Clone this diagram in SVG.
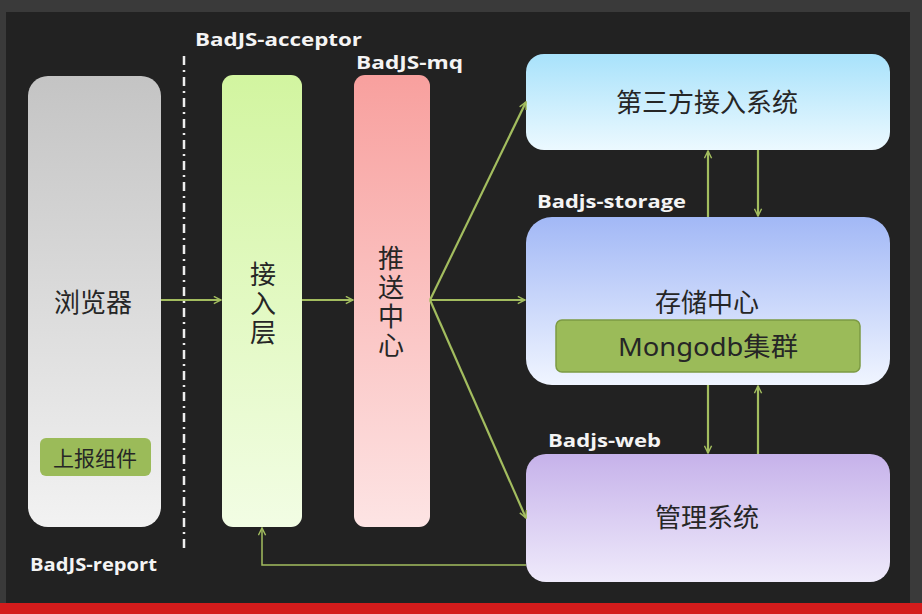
<svg xmlns="http://www.w3.org/2000/svg" width="922" height="614" viewBox="0 0 922 614">
<defs>
<linearGradient id="gGray" x1="0" y1="0" x2="0" y2="1"><stop offset="0" stop-color="#c4c4c4"/><stop offset="1" stop-color="#f2f2f2"/></linearGradient>
<linearGradient id="gGreen" x1="0" y1="0" x2="0" y2="1"><stop offset="0" stop-color="#d2f5a0"/><stop offset="1" stop-color="#f2fde4"/></linearGradient>
<linearGradient id="gPink" x1="0" y1="0" x2="0" y2="1"><stop offset="0" stop-color="#f8a09e"/><stop offset="1" stop-color="#fde4e4"/></linearGradient>
<linearGradient id="gCyan" x1="0" y1="0" x2="0" y2="1"><stop offset="0" stop-color="#a8e2fb"/><stop offset="1" stop-color="#ecf9ff"/></linearGradient>
<linearGradient id="gBlue" x1="0" y1="0" x2="0" y2="1"><stop offset="0" stop-color="#a2b8f6"/><stop offset="1" stop-color="#f0f5ff"/></linearGradient>
<linearGradient id="gPurple" x1="0" y1="0" x2="0" y2="1"><stop offset="0" stop-color="#c6b2ea"/><stop offset="1" stop-color="#efeafb"/></linearGradient>
<marker id="arr" viewBox="0 0 10 10" refX="9" refY="5" markerWidth="9" markerHeight="9" markerUnits="userSpaceOnUse" orient="auto">
<path d="M1,1 L9,5 L1,9" fill="none" stroke="#a3bd5f" stroke-width="1.6"/>
</marker>
</defs>
<style>
.lbl{font-family:"Open Sans","Liberation Sans","Noto Sans CJK SC",sans-serif;font-weight:bold;font-size:18px;fill:#f4f4f4}
.cn{font-family:"Noto Sans CJK SC","Noto Sans",sans-serif;font-size:26px;fill:#262626;text-anchor:middle}
.vt{writing-mode:vertical-rl;letter-spacing:3px}
.con{fill:none;stroke:#a3bd5f;stroke-width:2.2;marker-end:url(#arr)}
.con2{fill:none;stroke:#a3bd5f;stroke-width:1.5}
</style>
<rect x="0" y="0" width="922" height="614" fill="#3a3a3a"/>
<rect x="6" y="12" width="904" height="591" fill="#222222"/>
<rect x="0" y="603" width="922" height="11" fill="#d41c1c"/>

<line x1="184" y1="56" x2="184" y2="552" stroke="#eeeeee" stroke-width="2.5" stroke-dasharray="9,5,2,5"/>

<text class="lbl" x="195" y="46" textLength="167" lengthAdjust="spacingAndGlyphs">BadJS-acceptor</text>
<text class="lbl" x="356" y="69" textLength="107" lengthAdjust="spacingAndGlyphs">BadJS-mq</text>
<text class="lbl" x="537" y="208" textLength="149" lengthAdjust="spacingAndGlyphs">Badjs-storage</text>
<text class="lbl" x="548" y="447" textLength="113" lengthAdjust="spacingAndGlyphs">Badjs-web</text>
<text class="lbl" x="30" y="571" textLength="127" lengthAdjust="spacingAndGlyphs">BadJS-report</text>

<g id="browser">
<rect x="28" y="76" width="133" height="451" rx="20" fill="url(#gGray)"/>
<text class="cn" x="93" y="312">浏览器</text>
</g>
<g id="reporter">
<rect x="40" y="438" width="111" height="38" rx="6" fill="#9bbb59"/>
<text class="cn" x="95" y="466" style="font-size:21px">上报组件</text>
</g>
<g id="acceptor">
<rect x="222" y="75" width="80" height="452" rx="11" fill="url(#gGreen)"/>
<text class="cn vt" x="263" y="305">接入层</text>
</g>
<g id="mq">
<rect x="354" y="75" width="76" height="452" rx="11" fill="url(#gPink)"/>
<text class="cn vt" x="391" y="303">推送中心</text>
</g>
<g id="third">
<rect x="526" y="54" width="364" height="96" rx="18" fill="url(#gCyan)"/>
<text class="cn" x="707" y="112">第三方接入系统</text>
</g>
<g id="storage">
<rect x="526" y="217" width="364" height="168" rx="26" fill="url(#gBlue)"/>
<text class="cn" x="707" y="312">存储中心</text>
</g>
<g id="mongodb">
<rect x="556" y="320" width="304" height="52" rx="6" fill="#9bbb59" stroke="#7c9a43" stroke-width="1.5"/>
<text class="cn" x="708" y="356" textLength="180" lengthAdjust="spacingAndGlyphs" style="font-family:'Noto Sans','Noto Sans CJK SC',sans-serif">Mongodb集群</text>
</g>
<g id="web">
<rect x="526" y="454" width="364" height="128" rx="20" fill="url(#gPurple)"/>
<text class="cn" x="707" y="527">管理系统</text>
</g>

<g id="connectors">
<line class="con" x1="161" y1="300" x2="221" y2="300"/>
<line class="con" x1="302" y1="300" x2="353" y2="300"/>
<line class="con" x1="430" y1="300" x2="526" y2="102"/>
<line class="con" x1="430" y1="300" x2="525" y2="300"/>
<line class="con" x1="430" y1="300" x2="526" y2="518"/>
<line class="con" x1="708" y1="217" x2="708" y2="151"/>
<line class="con" x1="758" y1="150" x2="758" y2="216"/>
<line class="con" x1="708" y1="385" x2="708" y2="453"/>
<line class="con" x1="758" y1="454" x2="758" y2="386"/>
<polyline class="con2" points="526,565 262,565 262,528" marker-end="url(#arr)"/>
</g>
</svg>
